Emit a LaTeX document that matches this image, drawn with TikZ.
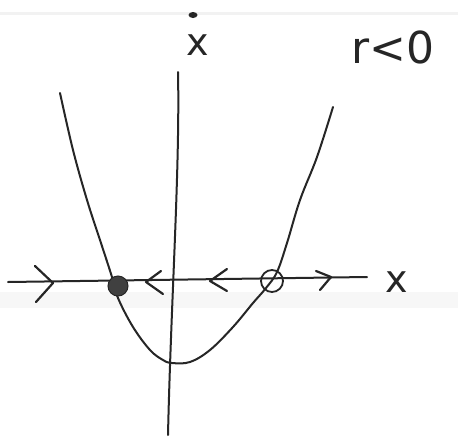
\documentclass[tikz,border=0pt]{standalone}
\usepackage{fontspec}
\newfontfamily\hand{DejaVu Sans}
\begin{document}
\begin{tikzpicture}[x=1pt,y=-1pt,
  ink/.style={draw=black!85,line width=2pt,line cap=round,line join=round},
  chev/.style={ink,line width=2.2pt},
  lbl/.style={text=black!85,inner sep=0pt,font=\hand}]
\useasboundingbox[fill=white] (0,0) rectangle (458,445);
% faint paper marks
\fill[black!3] (0,292) rectangle (458,308);
\fill[black!5] (0,12) rectangle (458,15);
% axes
\coordinate (xl) at (8,282);
\coordinate (xr) at (367,277);
\coordinate (yt) at (178,72);
\coordinate (yb) at (168,435);
\draw[ink] (xl) -- (xr);
\draw[ink] (yb) .. controls (171,300) and (180,170) .. (yt);
% parabola
\draw[ink] plot[smooth,tension=0.6] coordinates {(60,93) (73,150) (87,200) (100,240) (112,277) (118,298) (133,327) (150,350) (163,360) (172,363) (190,362) (210,350) (233,327) (253,303) (266,288) (277,272) (287,243) (300,200) (317,157) (333,107)};
% fixed points
\node[circle,fill=black!75,draw=black!85,line width=1pt,minimum size=20pt,inner sep=0pt] (stable) at (118,286) {};
\node[circle,draw=black!85,line width=1.8pt,minimum size=22pt,inner sep=0pt] (unstable) at (272,281) {};
% flow chevrons
\draw[chev] (35,266) -- (53,283) -- (36,302);
\draw[chev] (161,271) -- (146,282) -- (163,294);
\draw[chev] (227,269) -- (210,281) -- (227,291);
\draw[chev] (316,271) -- (331,277) -- (320,290);
% labels
\node[lbl,font=\hand\fontsize{38}{38}\selectfont] (xdot) at (198,45) {x};
\fill[black!85] (193,15) ellipse (4.5pt and 3pt);
\node[lbl,font=\hand\fontsize{38}{38}\selectfont] (xlab) at (397,282) {x};
\node[lbl,font=\hand\fontsize{44}{44}\selectfont] (rlab) at (393,47) {r<0};
\end{tikzpicture}
\end{document}
